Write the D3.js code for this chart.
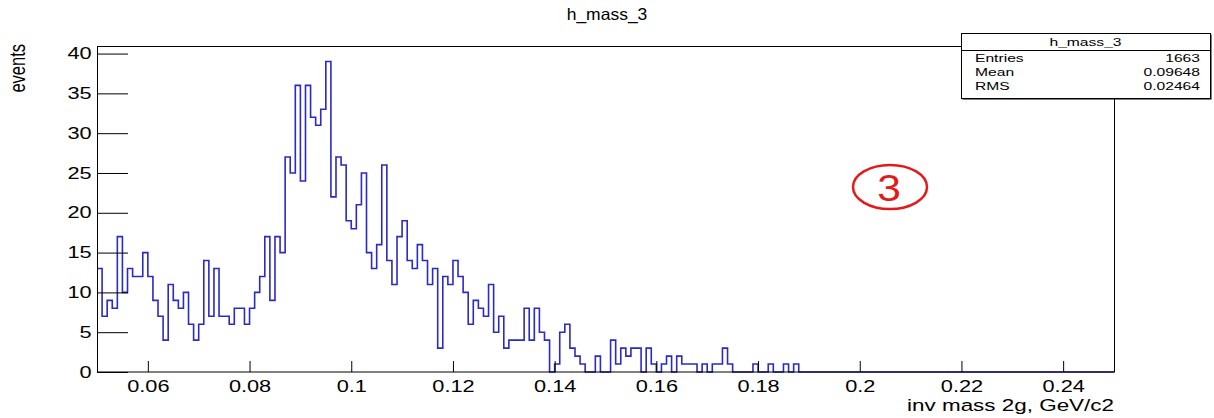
<!DOCTYPE html>
<html>
<head>
<meta charset="utf-8">
<script src="https://cdn.jsdelivr.net/npm/d3@7/dist/d3.min.js"></script>
<style>
  html, body { margin: 0; padding: 0; background: #fff; }
  svg { display: block; }
  text { font-family: "Liberation Sans", Arial, Helvetica, sans-serif; fill: #000; }
</style>
</head>
<body>
<div id="chart"></div>
<script>
// histogram definition: h_mass_3, 200 bins in [0.05, 0.25]
var nBins = 200;
var xMin = 0.05;
var xMax = 0.25;

// bin contents, left to right
var counts = [
  13, 7, 9, 8, 17, 10, 13, 12, 12, 15,
  12, 9, 7, 4, 11, 9, 8, 10, 6, 4,
  6, 14, 7, 13, 7, 7, 6, 8, 8, 6,
  8, 10, 12, 17, 9, 17, 15, 27, 25, 36,
  24, 36, 32, 31, 33, 39, 22, 27, 26, 19,
  18, 21, 25, 15, 13, 16, 26, 14, 11, 17,
  19, 14, 13, 16, 14, 11, 13, 3, 12, 11,
  14, 12, 10, 6, 9, 8, 7, 11, 5, 7,
  3, 4, 4, 4, 8, 4, 8, 5, 4, 0,
  1, 5, 6, 3, 2, 1, 0, 0, 2, 0,
  0, 4, 1, 3, 2, 3, 3, 0, 3, 1,
  0, 1, 2, 0, 2, 1, 1, 1, 0, 1,
  0, 1, 1, 3, 1, 0, 0, 0, 0, 1,
  0, 0, 1, 0, 0, 1, 0, 1, 0, 0,
  0, 0, 0, 0, 0, 0, 0, 0, 0, 0,
  0, 0, 0, 0, 0, 0, 0, 0, 0, 0,
  0, 0, 0, 0, 0, 0, 0, 0, 0, 0,
  0, 0, 0, 0, 0, 0, 0, 0, 0, 0,
  0, 0, 0, 0, 0, 0, 0, 0, 0, 0,
  0, 0, 0, 0, 0, 0, 0, 0, 0, 0
];

var xMajorTicks = [0.06, 0.08, 0.1, 0.12, 0.14, 0.16, 0.18, 0.2, 0.22, 0.24];
var xMinorTicks = [0.055, 0.065, 0.07, 0.075, 0.085, 0.09, 0.095, 0.105, 0.11, 0.115,
  0.125, 0.13, 0.135, 0.145, 0.15, 0.155, 0.165, 0.17, 0.175, 0.185, 0.19, 0.195,
  0.205, 0.21, 0.215, 0.225, 0.23, 0.235, 0.245];
var yMajorTicks = [0, 5, 10, 15, 20, 25, 30, 35, 40];
var yMinorTicks = [1, 2, 3, 4, 6, 7, 8, 9, 11, 12, 13, 14, 16, 17, 18, 19, 21, 22, 23, 24,
  26, 27, 28, 29, 31, 32, 33, 34, 36, 37, 38, 39];

var statNames = ["Entries", "Mean", "RMS"];
var statValues = ["1663", "0.09648", "0.02464"];

var histTitle = "h_mass_3";
var xTitle = "inv mass 2g, GeV/c2";
var yTitle = "events";

var width = 1214, height = 418;
var SX = 1.36; // the picture's text is stretched sideways

var svg = d3.select("#chart").append("svg")
  .attr("width", width)
  .attr("height", height);

var x = d3.scaleLinear().domain([xMin, xMax]).range([97, 1114]);
var y = d3.scaleLinear().domain([0, d3.max(counts) * 1.05]).range([372, 46]);

// histogram outline
var binW = (xMax - xMin) / nBins;
var pts = counts.map(function(c, i) { return [xMin + i * binW, c]; });
pts.push([xMax, counts[counts.length - 1]]);

var line = d3.line()
  .x(function(d) { return x(d[0]); })
  .y(function(d) { return y(d[1]); })
  .curve(d3.curveStepAfter);

svg.append("path")
  .attr("d", line(pts))
  .attr("fill", "none")
  .attr("stroke", "#2a2ac4")
  .attr("stroke-width", 1.6);

// axes, ticks inside the frame like ROOT
var gx = svg.append("g").attr("transform", "translate(0,372)");
gx.call(d3.axisBottom(x).tickValues(xMinorTicks).tickSize(-6).tickFormat(""));
gx.call(d3.axisBottom(x).tickValues(xMajorTicks).tickSize(-11).tickPadding(9)
  .tickFormat(function(d) { return d3.format("")(+d.toFixed(2)); }));

var gy = svg.append("g").attr("transform", "translate(97,0)");
gy.call(d3.axisLeft(y).tickValues(yMinorTicks).tickSize(-16).tickFormat(""));
gy.call(d3.axisLeft(y).tickValues(yMajorTicks).tickSize(-31).tickPadding(4));

svg.selectAll(".domain").remove();
svg.selectAll(".tick line").attr("stroke", "#000").attr("stroke-width", 1);
svg.selectAll(".tick text")
  .attr("font-size", 16)
  .attr("font-family", "'Liberation Sans', Arial, sans-serif")
  .attr("fill", "#000");
gx.selectAll(".tick text").attr("transform", "scale(" + SX + ",1)");
gy.selectAll(".tick text").attr("transform", "scale(" + SX + ",1)");

// frame
svg.append("rect")
  .attr("x", 97.5).attr("y", 46.5)
  .attr("width", 1017).attr("height", 325.5)
  .attr("fill", "none").attr("stroke", "#000").attr("stroke-width", 1);

function stretchedText(tx, ty, str, size, anchor, sx) {
  return svg.append("text")
    .attr("transform", "translate(" + tx + "," + ty + ") scale(" + (sx || SX) + ",1)")
    .attr("text-anchor", anchor)
    .attr("font-size", size)
    .text(str);
}

// titles
stretchedText(607, 20, histTitle, 16.5, "middle", 1.06);
stretchedText(1114, 411, xTitle, 16.5, "end");
svg.append("text")
  .attr("transform", "translate(25,44) scale(" + SX + ",1) rotate(-90)")
  .attr("text-anchor", "end")
  .attr("font-size", 16.5)
  .text(yTitle);

// stats box
var sb = { x0: 961, y0: 33, x1: 1210, y1: 98 };
svg.append("rect")
  .attr("x", sb.x0 + 1.5).attr("y", sb.y0 + 1.5)
  .attr("width", sb.x1 - sb.x0).attr("height", sb.y1 - sb.y0)
  .attr("fill", "#000");
svg.append("rect")
  .attr("x", sb.x0 + 0.5).attr("y", sb.y0 + 0.5)
  .attr("width", sb.x1 - sb.x0).attr("height", sb.y1 - sb.y0)
  .attr("fill", "#fff").attr("stroke", "#000").attr("stroke-width", 1);
svg.append("line")
  .attr("x1", sb.x0).attr("x2", sb.x1 + 0.5)
  .attr("y1", 50.5).attr("y2", 50.5)
  .attr("stroke", "#000");
stretchedText((sb.x0 + sb.x1) / 2, 46, histTitle, 11.5, "middle");
statNames.forEach(function(n, i) {
  stretchedText(975, 62 + i * 14, n, 11.5, "start");
  stretchedText(1200, 62 + i * 14, statValues[i], 11.5, "end");
});

// red circled mark
svg.append("ellipse")
  .attr("cx", 890).attr("cy", 187)
  .attr("rx", 37).attr("ry", 22)
  .attr("fill", "none")
  .attr("stroke", "#e41a1a")
  .attr("stroke-width", 2.5);
svg.append("text")
  .attr("transform", "translate(889,201) scale(1.15,1)")
  .attr("text-anchor", "middle")
  .attr("font-size", 37)
  .style("fill", "#e41a1a")
  .text("3");
</script>
</body>
</html>
